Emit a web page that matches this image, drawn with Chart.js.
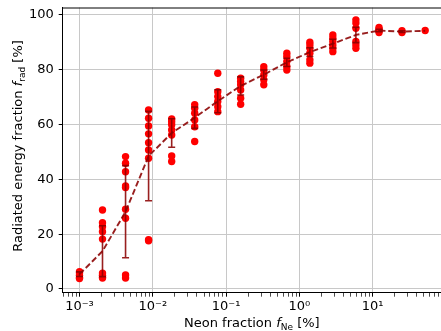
<!DOCTYPE html>
<html>
<head>
<meta charset="utf-8">
<script src="https://cdn.jsdelivr.net/npm/chart.js@4.4.0/dist/chart.umd.min.js"></script>
<style>
  body { margin: 0; background: #fff; }
  canvas { display: block; }
</style>
</head>
<body>
<canvas id="fradChart" width="441" height="331"></canvas>
<script>
// neon fraction of each scan point [%]
const neonFrac = [0.001, 0.00206, 0.00425, 0.00876, 0.0181, 0.0373, 0.077, 0.158,
                  0.327, 0.674, 1.39, 2.86, 5.9, 12.2, 25.1, 52];

// single runs, radiated energy fraction [%], one list per scan point
const fradRuns = [
  [6.3, 5.8, 5.0, 4.2, 3.8],
  [28.8, 24.2, 22.7, 20.9, 18.2, 5.8, 5.0, 4.4, 4.0],
  [48.3, 45.9, 42.8, 37.6, 37.0, 29.1, 25.8, 5.1, 4.0],
  [65.3, 62.3, 59.5, 56.6, 53.4, 50.7, 47.7, 18.0, 17.6],
  [62.0, 61.0, 59.9, 58.0, 56.2, 48.5, 46.5],
  [67.2, 65.9, 64.1, 61.7, 59.2, 53.8],
  [78.7, 72.0, 70.2, 68.4, 66.5, 64.7],
  [76.9, 75.7, 74.5, 72.6, 69.6, 67.4],
  [81.1, 79.9, 78.1, 76.3, 74.5],
  [86.0, 84.8, 83.0, 81.2, 79.9],
  [90.0, 89.0, 87.8, 86.0, 83.6, 82.4],
  [92.7, 91.5, 90.3, 89.0, 87.8, 86.6],
  [98.2, 97.0, 95.1, 90.3, 89.0, 87.8],
  [95.4, 94.8, 94.2, 93.6],
  [94.2, 93.6],
  [94.3]
];

// mean and standard deviation per scan point
const fradMean = [5.4, 13.8, 28.2, 48.5, 56.9, 62.5, 68.5, 74.1, 78.2, 82.7, 86.4, 89.5, 92.7, 94.3, 93.9, 94.2];
const fradStd  = [0.85, 9.3, 16.8, 16.3, 5.2, 3.9, 4.2, 3.3, 1.7, 1.5, 1.6, 1.6, 2.8, 0.45, 0.3, 0];

const xMajorTicks = [1e-3, 1e-2, 1e-1, 1, 10];
const xTickLabels = ['10⁻³', '10⁻²', '10⁻¹', '10⁰', '10¹'];
const yTicks = [0, 20, 40, 60, 80, 100];

const X_MIN = 5.9e-4, X_MAX = 85.5;
const Y_MIN = -1.35, Y_MAX = 102.7;

// minor ticks 2..9 in each decade
const xMinorTicks = [];
for (let e = -4; e <= 1; e++) {
  for (let m = 2; m <= 9; m++) {
    const v = m * Math.pow(10, e);
    if (v > X_MIN && v < X_MAX) xMinorTicks.push(v);
  }
}
const xAllTicks = xMajorTicks.concat(xMinorTicks).sort((a, b) => a - b);

const scatterPts = [];
fradRuns.forEach((runs, i) => runs.forEach(v => scatterPts.push({ x: neonFrac[i], y: v })));

const LINE_COLOR = 'rgba(139,0,0,0.88)';
const FONT = 'DejaVu Sans';

const errorBars = {
  id: 'errorBars',
  afterDatasetsDraw(chart) {
    const { ctx, scales: { x, y } } = chart;
    ctx.save();
    ctx.strokeStyle = LINE_COLOR;
    ctx.lineWidth = 1.6;
    neonFrac.forEach((f, i) => {
      if (!fradStd[i]) return;
      const px = x.getPixelForValue(f);
      const top = y.getPixelForValue(fradMean[i] + fradStd[i]);
      const bot = y.getPixelForValue(fradMean[i] - fradStd[i]);
      ctx.beginPath();
      ctx.moveTo(px, top); ctx.lineTo(px, bot);
      ctx.moveTo(px - 3.5, top); ctx.lineTo(px + 3.5, top);
      ctx.moveTo(px - 3.5, bot); ctx.lineTo(px + 3.5, bot);
      ctx.stroke();
    });
    ctx.restore();
  }
};

function drawRichText(ctx, parts, cx, cy, angle) {
  ctx.save();
  ctx.translate(cx, cy);
  ctx.rotate(angle);
  ctx.textBaseline = 'alphabetic';
  ctx.fillStyle = '#000';
  let total = 0;
  parts.forEach(p => { ctx.font = p.font; p.w = ctx.measureText(p.text).width; total += p.w; });
  let pos = -total / 2;
  parts.forEach(p => { ctx.font = p.font; ctx.fillText(p.text, pos, p.dy || 0); pos += p.w; });
  ctx.restore();
}

const frame = {
  id: 'frame',
  afterDraw(chart) {
    const { ctx, chartArea: a } = chart;
    ctx.save();
    ctx.strokeStyle = '#000';
    ctx.lineWidth = 1;
    ctx.beginPath();
    ctx.moveTo(a.left, a.top + 0.5);
    ctx.lineTo(a.right, a.top + 0.5);
    ctx.stroke();
    ctx.restore();

    const n = '13px "' + FONT + '"', it = 'italic 13px "' + FONT + '"', sub = '9px "' + FONT + '"';
    drawRichText(ctx, [
      { text: 'Neon fraction ', font: n },
      { text: 'f', font: it },
      { text: 'Ne', font: sub, dy: 3 },
      { text: ' [%]', font: n }
    ], (a.left + a.right) / 2, 326.5, 0);
    drawRichText(ctx, [
      { text: 'Radiated energy fraction ', font: n },
      { text: 'f', font: it },
      { text: 'rad', font: sub, dy: 3 },
      { text: ' [%]', font: n }
    ], 21.5, 146, -Math.PI / 2);
  }
};

new Chart(document.getElementById('fradChart'), {
  data: {
    datasets: [
      {
        type: 'scatter',
        data: scatterPts,
        backgroundColor: '#ff0000',
        borderWidth: 0,
        pointRadius: 3.7,
        order: 2
      },
      {
        type: 'line',
        data: neonFrac.map((f, i) => ({ x: f, y: fradMean[i] })),
        borderColor: LINE_COLOR,
        borderWidth: 1.9,
        borderDash: [6, 2.8],
        pointRadius: 0,
        fill: false,
        order: 1
      }
    ]
  },
  options: {
    responsive: false,
    animation: false,
    devicePixelRatio: 1,
    layout: { autoPadding: false, padding: { top: 7.5, right: 0, left: 0, bottom: 0 } },
    plugins: { legend: { display: false }, tooltip: { enabled: false } },
    scales: {
      x: {
        type: 'logarithmic',
        min: X_MIN,
        max: X_MAX,
        afterBuildTicks: s => { s.ticks = xAllTicks.map(v => ({ value: v, major: false })); },
        afterFit: s => { s.height = 38.3; s.paddingLeft = 0; s.paddingRight = 0; },
        border: { color: '#000', width: 1 },
        grid: {
          color: c => xMajorTicks.includes(c.tick && c.tick.value) ? '#c8c8c8' : 'rgba(0,0,0,0)',
          tickColor: '#000',
          tickWidth: c => xMajorTicks.includes(c.tick && c.tick.value) ? 1 : 0.7,
          tickLength: 4,
          lineWidth: 1
        },
        ticks: {
          autoSkip: false,
          maxRotation: 0,
          padding: 2,
          color: '#000',
          font: { family: FONT, size: 13 },
          callback: v => {
            const k = xMajorTicks.indexOf(v);
            return k >= 0 ? xTickLabels[k] : '';
          }
        }
      },
      y: {
        type: 'linear',
        min: Y_MIN,
        max: Y_MAX,
        afterBuildTicks: s => { s.ticks = yTicks.map(v => ({ value: v })); },
        afterFit: s => { s.width = 62.7; s.paddingTop = 0; s.paddingBottom = 0; },
        border: { color: '#000', width: 1 },
        grid: { color: '#c8c8c8', tickColor: '#000', tickLength: 4, lineWidth: 1 },
        ticks: {
          padding: 5,
          color: '#000',
          font: { family: FONT, size: 13 },
          callback: v => String(v)
        }
      }
    }
  },
  plugins: [errorBars, frame]
});
</script>
</body>
</html>
